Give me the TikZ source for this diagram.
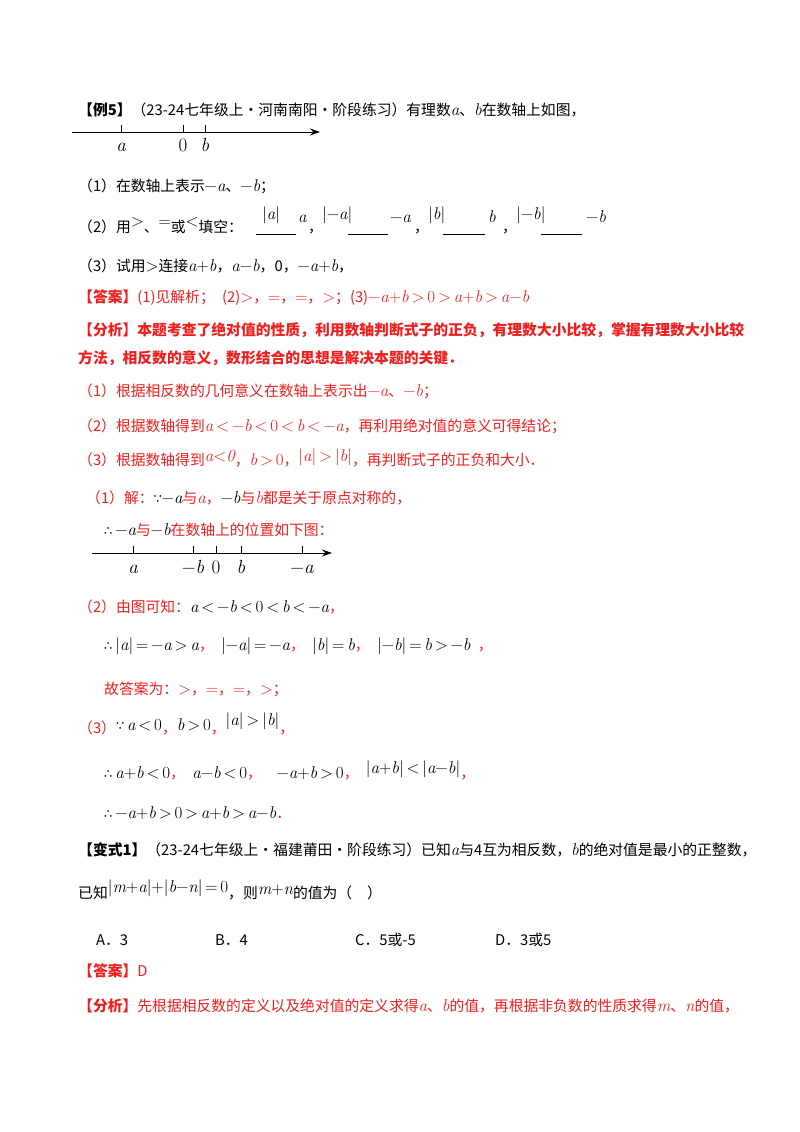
\documentclass[tikz,border=0pt]{standalone}
\usepackage{fontspec}
\setmainfont{Noto Sans CJK SC}
\newfontfamily\lm{Latin Modern Roman}
\newfontfamily\dv{DejaVu Sans}
\usetikzlibrary{arrows.meta}
\definecolor{rd}{RGB}{240,30,30}
\newcommand{\m}[1]{{\lm\itshape\fontsize{17}{17}\selectfont #1}}
\newcommand{\mm}[1]{{\lm\fontsize{17}{17}\selectfont #1}}
\newcommand{\thf}{{\dv\fontsize{13}{13}\selectfont ∴}}
\newcommand{\bec}{{\dv\fontsize{13}{13}\selectfont ∵}}
\begin{document}
\begin{tikzpicture}[x=1pt,y=-1pt,
  t/.style={anchor=base west,inner sep=0pt,font=\fontsize{14.8}{16}\selectfont},
  r/.style={t,text=rd},
  nl/.style={font=\lm\itshape\fontsize{19}{19}\selectfont,anchor=base,inner sep=0pt},
  ax/.style={line width=1pt,-{Stealth[length=10pt,width=7pt]}}]
\useasboundingbox (0,0) rectangle (800,1132);
\node[t] (h1) at (78,115) {\textbf{【例5】}（23-24七年级上·河南南阳·阶段练习）有理数\m{a}、\m{b}在数轴上如图，};
\coordinate (l1) at (72,132); \coordinate (r1) at (320,132);
\draw[ax] (l1) -- (r1);
\foreach \x/\lab in {121/a,183/\upshape 0,205/b}{\draw (\x,125)--(\x,132); \node[nl] at (\x,151) {\lab};}
\node[t] (p1) at (78,191) {（1）在数轴上表示\mm{−}\m{a}、\mm{−}\m{b}；};
\node[t] (p2) at (78,232) {（2）用\raisebox{6pt}{\mm{>}}、\raisebox{6pt}{\mm{=}}或\raisebox{6pt}{\mm{<}}填空：};
\node[t] at (262,219) {\mm{|}\m{a}\mm{|}}; \draw (256,234)--(296,234); \node[t] at (298,222) {\m{a}}; \node[t] at (308,232) {，};
\node[t] at (322,219) {\mm{|−}\m{a}\mm{|}}; \draw (348,234)--(388,234); \node[t] at (390,222) {\mm{−}\m{a}}; \node[t] at (414,232) {，};
\node[t] at (428,219) {\mm{|}\m{b}\mm{|}}; \draw (443,234)--(485,234); \node[t] at (488,222) {\m{b}}; \node[t] at (502,232) {，};
\node[t] at (516,219) {\mm{|−}\m{b}\mm{|}}; \draw (541,234)--(582,234); \node[t] at (586,222) {\mm{−}\m{b}};
\node[t] (p3) at (78,271) {（3）试用\mm{>}连接\m{a}\mm{+}\m{b}，\m{a}\mm{−}\m{b}，0，\mm{−}\m{a}\mm{+}\m{b}，};
\node[r] (ans) at (78,302) {\textbf{【答案】}(1)见解析；\enspace(2)\mm{>}，\mm{=}，\mm{=}，\mm{>}；(3)\mm{−}\m{a}\mm{+}\m{b}\mm{\,>\,0\,>\,}\m{a}\mm{+}\m{b}\mm{\,>\,}\m{a}\mm{−}\m{b}};
\node[r] (an1) at (78,335) {\textbf{【分析】本题考查了绝对值的性质，利用数轴判断式子的正负，有理数大小比较，掌握有理数大小比较}};
\node[r] (an2) at (78,363) {\textbf{方法，相反数的意义，数形结合的思想是解决本题的关键．}};
\node[r] (an3) at (78,396) {（1）根据相反数的几何意义在数轴上表示出\mm{−}\m{a}、\mm{−}\m{b}；};
\node[r] (an4) at (78,431) {（2）根据数轴得到\m{a}\mm{\,<\,−}\m{b}\mm{\,<\,0\,<\,}\m{b}\mm{\,<\,−}\m{a}，再利用绝对值的意义可得结论；};
\node[r] (an5) at (78,465) {（3）根据数轴得到\raisebox{4pt}{\m{a}\mm{<}\m{0}}，\m{b}\mm{\,>\,0}，\raisebox{4pt}{\mm{|}\m{a}\mm{|\,>\,|}\m{b}\mm{|}}，再判断式子的正负和大小．};
\node[r] (s1) at (86,503) {（1）解：\textcolor{black}{\bec\mm{−}\m{a}}与\m{a}，\textcolor{black}{\mm{−}\m{b}}与\m{b}都是关于原点对称的，};
\node[r] (s2) at (104,535) {\textcolor{black}{\thf\mm{\,−}\m{a}}与\textcolor{black}{\mm{−}\m{b}}在数轴上的位置如下图：};
\coordinate (l2) at (92,553); \coordinate (r2) at (332,553);
\draw[ax] (l2) -- (r2);
\foreach \x/\lab in {133/a,193/{\upshape −}b,216/\upshape 0,241/b,302/{\upshape −}a}{\draw (\x,546)--(\x,553); \node[nl] at (\x,573) {\lab};}
\node[r] (s3) at (78,612) {（2）由图可知：\textcolor{black}{\m{a}\mm{\,<\,−}\m{b}\mm{\,<\,0\,<\,}\m{b}\mm{\,<\,−}\m{a}}，};
\node[t] (s4) at (104,650) {\thf\mm{\,|}\m{a}\mm{|\,=\,−}\m{a}\mm{\,>\,}\m{a}\textcolor{rd}{，}\enspace\mm{|−}\m{a}\mm{|\,=\,−}\m{a}\textcolor{rd}{，}\enspace\mm{|}\m{b}\mm{|\,=\,}\m{b}\textcolor{rd}{，}\enspace\mm{|−}\m{b}\mm{|\,=\,}\m{b}\mm{\,>\,−}\m{b}\enspace\textcolor{rd}{，}};
\node[r] (s5) at (104,694) {故答案为：\mm{>}，\mm{=}，\mm{=}，\mm{>}；};
\node[r] (s6) at (78,733) {（3）\textcolor{black}{\raisebox{3pt}{\bec\mm{\,}\m{a}\mm{\,<\,0}}}，\textcolor{black}{\raisebox{3pt}{\m{b}\mm{\,>\,0}}}，\textcolor{black}{\raisebox{8pt}{\mm{|}\m{a}\mm{|\,>\,|}\m{b}\mm{|}}}，};
\node[t] (s7) at (104,778) {\thf\mm{\,}\m{a}\mm{+}\m{b}\mm{\,<\,0}\textcolor{rd}{，}\enspace\m{a}\mm{−}\m{b}\mm{\,<\,0}\textcolor{rd}{，}\quad\mm{−}\m{a}\mm{+}\m{b}\mm{\,>\,0}\textcolor{rd}{，}\enspace\raisebox{5pt}{\mm{|}\m{a}\mm{+}\m{b}\mm{|\,<\,|}\m{a}\mm{−}\m{b}\mm{|}}\textcolor{rd}{，}};
\node[t] (s8) at (104,818) {\thf\mm{\,−}\m{a}\mm{+}\m{b}\mm{\,>\,0\,>\,}\m{a}\mm{+}\m{b}\mm{\,>\,}\m{a}\mm{−}\m{b}\textcolor{rd}{．}};
\node[t] (v1) at (78,855) {\textbf{【变式1】}（23-24七年级上·福建莆田·阶段练习）已知\m{a}与4互为相反数，\m{b}的绝对值是最小的正整数，};
\node[t] (v2) at (78,898) {已知\raisebox{6pt}{\mm{|}\m{m}\mm{+}\m{a}\mm{|+|}\m{b}\mm{−}\m{n}\mm{|\,=\,0}}，则\raisebox{4pt}{\m{m}\mm{+}\m{n}}的值为（\quad）};
\node[t] (oa) at (96,945) {A．3};
\node[t] (ob) at (215,945) {B．4};
\node[t] (oc) at (355,945) {C．5或-5};
\node[t] (od) at (495,945) {D．3或5};
\node[r] (va) at (78,976) {\textbf{【答案】}D};
\node[r] (vf) at (78,1011) {\textbf{【分析】}先根据相反数的定义以及绝对值的定义求得\m{a}、\m{b}的值，再根据非负数的性质求得\m{m}、\m{n}的值，};
\end{tikzpicture}
\end{document}
